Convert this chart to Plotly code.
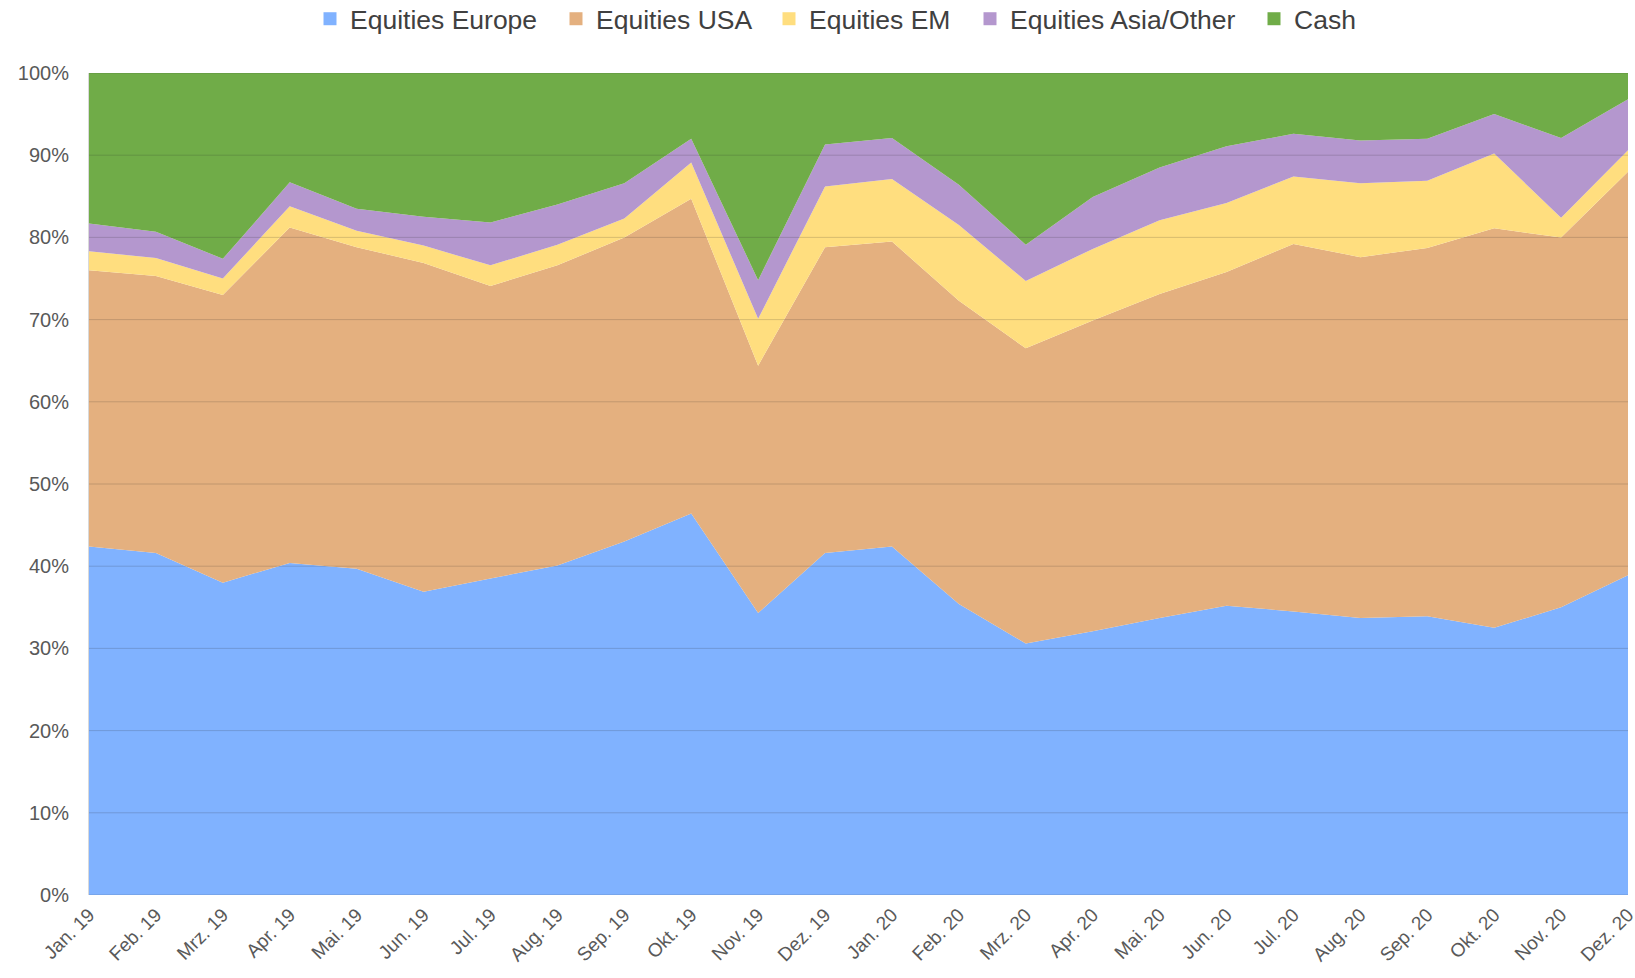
import plotly.graph_objects as go

months = ["Jan. 19", "Feb. 19", "Mrz. 19", "Apr. 19", "Mai. 19", "Jun. 19", "Jul. 19", "Aug. 19",
          "Sep. 19", "Okt. 19", "Nov. 19", "Dez. 19", "Jan. 20", "Feb. 20", "Mrz. 20", "Apr. 20",
          "Mai. 20", "Jun. 20", "Jul. 20", "Aug. 20", "Sep. 20", "Okt. 20", "Nov. 20", "Dez. 20"]

equities_europe = [42.4, 41.6, 38.0, 40.4, 39.7, 36.9, 38.5, 40.1, 43.0, 46.4, 34.3, 41.6,
                   42.4, 35.4, 30.6, 32.1, 33.7, 35.2, 34.5, 33.7, 33.9, 32.5, 35.0, 38.9]
equities_usa = [33.6, 33.7, 35.0, 40.8, 39.1, 40.0, 35.6, 36.5, 37.0, 38.3, 30.1, 37.2,
                37.1, 36.9, 35.9, 37.8, 39.4, 40.6, 44.7, 43.9, 44.8, 48.6, 45.0, 49.1]
equities_em = [2.3, 2.2, 2.0, 2.6, 2.0, 2.1, 2.5, 2.5, 2.3, 4.4, 5.7, 7.4,
               7.6, 9.2, 8.2, 8.7, 9.0, 8.4, 8.2, 9.0, 8.2, 9.1, 2.4, 2.6]
equities_asia = [3.4, 3.2, 2.4, 2.9, 2.7, 3.5, 5.2, 4.9, 4.3, 2.9, 4.7, 5.1,
                 5.0, 4.9, 4.4, 6.3, 6.4, 6.9, 5.2, 5.2, 5.1, 4.8, 9.7, 6.2]
cash = [18.3, 19.3, 22.6, 13.3, 16.5, 17.5, 18.2, 16.0, 13.4, 8.0, 25.2, 8.7,
        7.9, 13.6, 20.9, 15.1, 11.5, 8.9, 7.4, 8.2, 8.0, 5.0, 7.9, 3.2]

y_ticks = [0, 10, 20, 30, 40, 50, 60, 70, 80, 90, 100]
y_tick_labels = [f"{v}%" for v in y_ticks]

series = [
    ("Equities Europe", equities_europe, "#80B2FF"),
    ("Equities USA", equities_usa, "#E4B07F"),
    ("Equities EM", equities_em, "#FFDE7F"),
    ("Equities Asia/Other", equities_asia, "#B497CE"),
    ("Cash", cash, "#70AC48"),
]
# left edge (px) of each legend entry, as laid out in the reference
legend_left_px = [310, 556, 769, 970, 1254]

FONT = "Liberation Sans, Arial, sans-serif"
W, H = 1635, 978
xs = list(range(len(months)))

fig = go.Figure()
for name, vals, color in series:
    fig.add_trace(go.Scatter(
        x=xs, y=vals, name=name, mode="none", stackgroup="one",
        fill="tonexty", fillcolor=color, line=dict(width=0),
        showlegend=False, hoverinfo="x+y+name",
    ))

legend_layout = {}
for i, (name, vals, color) in enumerate(series):
    key = "legend" if i == 0 else f"legend{i + 1}"
    fig.add_trace(go.Scatter(
        x=[None], y=[None], name=name, mode="markers",
        marker=dict(symbol="square", size=13, color=color),
        showlegend=True, legend=key,
    ))
    legend_layout[key] = dict(
        orientation="h", xref="container", yref="container",
        x=legend_left_px[i] / W, xanchor="left", y=1 - 19 / H, yanchor="middle",
        font=dict(size=26.5, color="#404040", family=FONT),
        bgcolor="rgba(0,0,0,0)", borderwidth=0,
    )

# gridlines drawn on top of the areas, as in the reference
for v in y_ticks:
    fig.add_shape(type="line", xref="paper", yref="y", x0=0, x1=1, y0=v, y1=v,
                  line=dict(color="rgba(40,40,40,0.18)", width=1), layer="above")

fig.update_layout(
    width=W, height=H,
    margin=dict(l=89, r=7, t=73, b=83, autoexpand=False),
    paper_bgcolor="white", plot_bgcolor="white",
    font=dict(family=FONT, color="#595959"),
    xaxis=dict(range=[0, len(months) - 1], tickmode="array", tickvals=xs, ticktext=months,
               tickangle=-45, tickfont=dict(size=19, color="#595959"), showgrid=False,
               zeroline=False, showline=False, ticks="", ticklabelstandoff=4,
               ticklabeloverflow="allow"),
    yaxis=dict(range=[0, 100], tickmode="array", tickvals=y_ticks, ticktext=y_tick_labels,
               tickfont=dict(size=20, color="#595959"), showgrid=False, zeroline=False,
               showline=True, linecolor="#D9D9D9", linewidth=1, ticks="",
               ticklabelstandoff=15),
    hovermode="x unified",
    **legend_layout,
)

fig.write_html("out.html", config={"displayModeBar": False},
               post_script="document.body.style.margin='0';document.body.style.overflow='hidden';")
